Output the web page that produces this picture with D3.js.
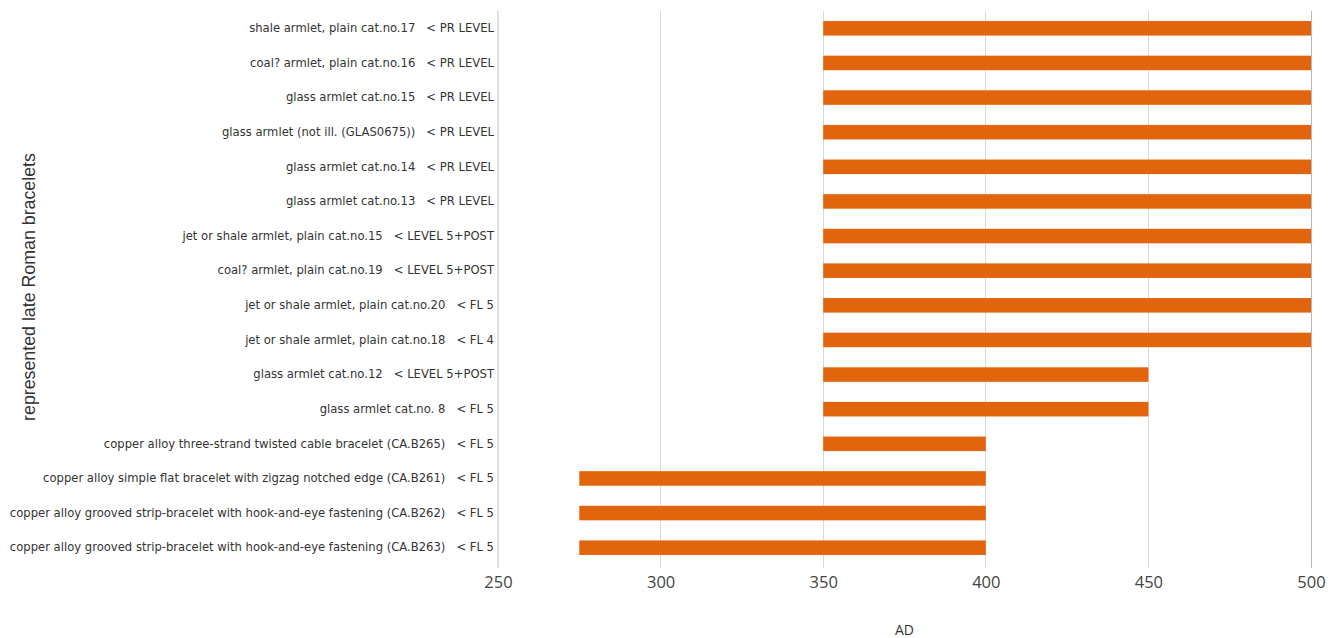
<!DOCTYPE html>
<html><head><meta charset="utf-8">
<script src="https://cdn.jsdelivr.net/npm/d3@7"></script>
<style>body{margin:0;background:#fff}svg{display:block}text{white-space:pre}</style>
</head><body><svg id="c" width="1341" height="638"></svg>
<script>
const categories = [
  "shale armlet, plain cat.no.17   < PR LEVEL",
  "coal? armlet, plain cat.no.16   < PR LEVEL",
  "glass armlet cat.no.15   < PR LEVEL",
  "glass armlet (not ill. (GLAS0675))   < PR LEVEL",
  "glass armlet cat.no.14   < PR LEVEL",
  "glass armlet cat.no.13   < PR LEVEL",
  "jet or shale armlet, plain cat.no.15   < LEVEL 5+POST",
  "coal? armlet, plain cat.no.19   < LEVEL 5+POST",
  "jet or shale armlet, plain cat.no.20   < FL 5",
  "jet or shale armlet, plain cat.no.18   < FL 4",
  "glass armlet cat.no.12   < LEVEL 5+POST",
  "glass armlet cat.no. 8   < FL 5",
  "copper alloy three-strand twisted cable bracelet (CA.B265)   < FL 5",
  "copper alloy simple flat bracelet with zigzag notched edge (CA.B261)   < FL 5",
  "copper alloy grooved strip-bracelet with hook-and-eye fastening (CA.B262)   < FL 5",
  "copper alloy grooved strip-bracelet with hook-and-eye fastening (CA.B263)   < FL 5"
];
const startValues = [350,350,350,350,350,350,350,350,350,350,350,350,350,275,275,275];
const endValues   = [500,500,500,500,500,500,500,500,500,500,450,450,400,400,400,400];
const xTicks = [250,300,350,400,450,500];
const xTitle = "AD";
const yTitle = "represented late Roman bracelets";

const svg = d3.select("#c");
const L = 498, R = 1311, T = 11, B = 565;
const x = d3.scaleLinear().domain([250,500]).range([L,R]);
const y = d3.scaleBand().domain(categories).range([T,B]).paddingInner(0.58).paddingOuter(0.29);

// gridlines
svg.append("g").selectAll("line").data(xTicks.slice(1)).join("line")
  .attr("x1",d=>x(d)).attr("x2",d=>x(d)).attr("y1",T).attr("y2",B+3)
  .attr("stroke",d=>d===500?"#b8b8b8":"#d9d9d9").attr("stroke-width",1).attr("shape-rendering","crispEdges");

// bars
svg.append("g").selectAll("rect").data(categories).join("rect")
  .attr("x",(d,i)=>x(startValues[i]))
  .attr("width",(d,i)=>x(endValues[i])-x(startValues[i]))
  .attr("y",d=>y(d)).attr("height",y.bandwidth())
  .attr("fill","#e2640c");

// y axis
const ya = svg.append("g").attr("transform",`translate(${L},0)`)
  .call(d3.axisLeft(y).tickSize(0).tickPadding(4));
ya.select(".domain").attr("stroke","#bdbdbd").attr("d",`M0,${T}V${B+3}`);
ya.selectAll("text").attr("font-family","DejaVu Sans, Verdana, sans-serif").attr("font-size","11.6px").attr("fill","#333");

// x axis
const xa = svg.append("g").attr("transform",`translate(0,${B})`)
  .call(d3.axisBottom(x).tickValues(xTicks).tickSize(0).tickPadding(11));
xa.select(".domain").remove();
xa.selectAll("text").attr("font-family","Open Sans, DejaVu Sans, sans-serif").attr("font-size","16.5px").attr("fill","#444");

svg.append("text").attr("x",(L+R)/2).attr("y",635).attr("text-anchor","middle")
  .attr("font-family","Open Sans, DejaVu Sans, sans-serif").attr("font-size","14px").attr("fill","#333").text(xTitle);
svg.append("text").attr("transform",`translate(35,${287}) rotate(-90)`).attr("text-anchor","middle")
  .attr("font-family","Liberation Sans, Arial, sans-serif").attr("font-size","17.8px").attr("fill","#333").text(yTitle);
</script></body></html>
